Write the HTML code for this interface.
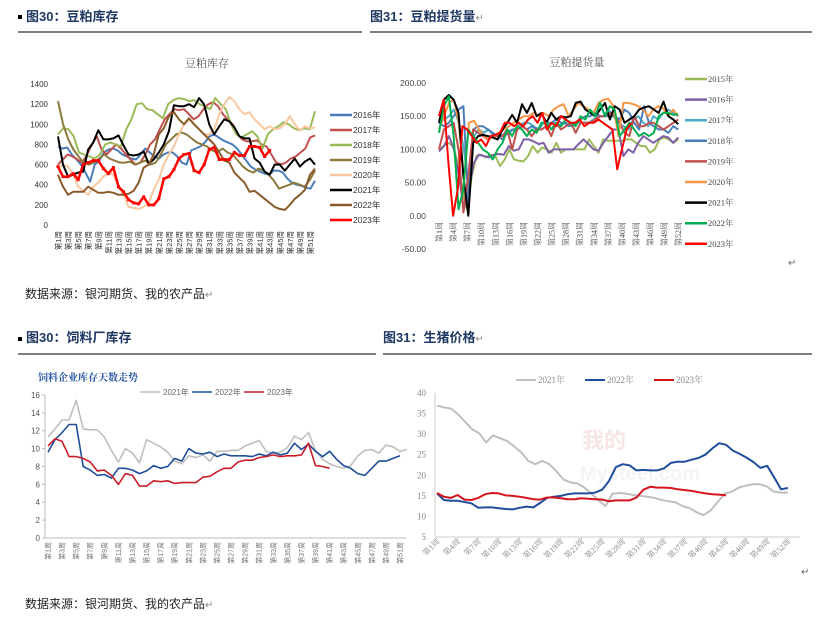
<!DOCTYPE html>
<html><head><meta charset="utf-8"><style>
body{margin:0;background:#fff;width:831px;height:617px;overflow:hidden;font-family:"Liberation Sans","Noto Sans CJK SC",sans-serif}
svg{position:absolute;left:0;top:0}
</style></head><body>
<svg id="s" width="831" height="617" xmlns="http://www.w3.org/2000/svg" font-family="Liberation Sans, Noto Sans CJK SC, sans-serif">
<rect x="18" y="15" width="4" height="4" fill="#000"/>
<text x="26" y="21" font-size="13" font-weight="bold" fill="#1f3864">图30：豆粕库存</text>
<text x="370" y="21" font-size="13" font-weight="bold" fill="#1f3864">图31：豆粕提货量<tspan fill="#888" font-weight="normal" font-size="10">↵</tspan></text>
<line x1="18" y1="32" x2="362" y2="32" stroke="#000" stroke-width="1"/>
<line x1="370" y1="32" x2="812" y2="32" stroke="#000" stroke-width="1"/>
<text x="25" y="298" font-size="12" fill="#222">数据来源：银河期货、我的农产品<tspan fill="#888" font-size="10">↵</tspan></text>
<rect x="18" y="337" width="4" height="4" fill="#000"/>
<text x="26" y="342" font-size="13" font-weight="bold" fill="#1f3864">图30：饲料厂库存</text>
<text x="383" y="342" font-size="13" font-weight="bold" fill="#1f3864">图31：生猪价格<tspan fill="#888" font-weight="normal" font-size="10">↵</tspan></text>
<line x1="18" y1="354" x2="376" y2="354" stroke="#000"/>
<line x1="383" y1="354" x2="812" y2="354" stroke="#000"/>
<text x="25" y="608" font-size="12" fill="#222">数据来源：银河期货、我的农产品<tspan fill="#888" font-size="10">↵</tspan></text>
<text x="788" y="266" font-size="10" fill="#666">↵</text>
<text x="801" y="575" font-size="10" fill="#666">↵</text>
<g id="g"></g>
</svg>
<script>
const g=document.getElementById('g');let h='';
function line(a,x0,step,y0,ys,col,w,base){let p=a.map((v,i)=>(x0+i*step).toFixed(1)+','+(y0-(v-base)*ys).toFixed(1)).join(' ');h+=`<polyline points="${p}" fill="none" stroke="${col}" stroke-width="${w}" stroke-linejoin="round"/>`;}
function txt(x,y,t,o){h+=`<text x="${x}" y="${y}" ${o||''}>${t}</text>`;}
h+=`<text x="207" y="67" font-size="11" fill="#555" text-anchor="middle" font-family="Liberation Serif, Noto Serif CJK SC, serif">豆粕库存</text>`;
for(let v=0;v<=1400;v+=200)txt(48,225-v*0.1007+3,v,'font-size="8" fill="#333" text-anchor="end"');
for(let i=1;i<=51;i+=2){let x=58+(i-1)*5.04;txt(0,0,'第'+i+'周',`font-size="7.5" fill="#333" text-anchor="end" transform="translate(${x+3},231) rotate(-90)"`);}
const c1={"#4a7ebb":[780,760,770,700,650,600,520,430,600,640,720,750,760,740,700,680,660,650,700,760,720,680,660,700,720,720,680,620,600,740,760,780,820,880,900,870,840,820,800,760,700,640,580,550,530,510,500,540,540,520,460,420,400,390,370,360,440],
"#c0504d":[600,650,700,680,650,620,700,800,880,750,700,750,800,760,700,650,600,620,700,800,850,950,1050,1100,1150,1140,1150,1100,1050,1080,1150,1200,1220,1180,1100,1050,1000,900,850,830,830,840,800,780,700,620,600,620,660,680,720,760,870,890],
"#9bbb59":[900,960,950,880,720,700,680,660,700,800,820,800,780,950,1050,1200,1210,1150,1140,1100,1060,1200,1240,1260,1250,1230,1240,1200,1180,1150,1260,1200,1150,1000,900,870,900,930,880,760,900,950,980,1020,1000,960,940,960,950,1130],
"#8c7a3e":[1230,1000,850,750,680,620,600,620,660,700,660,640,620,620,630,600,620,640,600,620,700,800,850,900,920,900,860,820,800,780,740,720,760,720,700,640,580,540,520,560,540,500,440,360,380,400,420,400,380,450,540],
"#fac8a0":[560,600,580,500,380,340,300,380,420,480,520,500,380,300,180,170,160,180,220,350,450,600,700,780,900,1000,1050,1000,950,900,900,950,1100,1200,1270,1230,1150,1100,1120,1050,1000,950,980,950,960,1000,1080,1000,940,980,960,970],
"#000":[880,600,480,500,520,530,750,820,940,850,850,860,890,790,700,690,700,730,610,650,720,800,930,1190,1180,1180,1200,1170,1260,1200,1000,900,980,1050,1030,970,880,860,860,660,620,530,500,600,600,540,600,660,580,630,660,600],
"#8b5a2b":[500,380,300,330,330,330,380,350,320,320,330,320,300,300,310,340,420,570,600,700,900,960,1080,1120,1050,1000,1060,1000,950,900,850,800,720,640,620,520,470,420,330,340,300,260,220,180,160,150,200,260,300,350,500,560]};
for(const k in c1){let a=c1[k];line(a,58,257/(a.length-1),225,0.1007,k,2,0);}
let r23=[580,480,480,510,450,600,620,640,640,560,510,570,380,330,250,220,210,280,200,200,260,460,480,550,660,700,710,540,520,600,750,770,650,650,650,720,690,690,780,780,770,680,740];
line(r23,58,5.04,225,0.1007,"#f00",2.5,0);
r23.forEach((v,i)=>h+=`<rect x="${58+i*5.04-1.5}" y="${225-v*0.1007-1.5}" width="3" height="3" fill="#f00"/>`);
const l1=[["#4a7ebb","2016年"],["#c0504d","2017年"],["#9bbb59","2018年"],["#8c7a3e","2019年"],["#fac8a0","2020年"],["#000","2021年"],["#8b5a2b","2022年"],["#f00","2023年"]];
l1.forEach((l,i)=>{let y=115+i*15;h+=`<line x1="330" y1="${y}" x2="352" y2="${y}" stroke="${l[0]}" stroke-width="2.5"/>`;txt(353,y+3,l[1],'font-size="8.5" fill="#333"');});
h+=`<text x="577" y="66" font-size="11" fill="#555" text-anchor="middle" font-family="Liberation Serif, Noto Serif CJK SC, serif">豆粕提货量</text>`;
for(let v=-50;v<=200;v+=50)txt(426,249-(v+50)*0.664+3,v.toFixed(2),'font-size="8.5" fill="#444" text-anchor="end"');
for(let i=1;i<=52;i+=3){let x=439+(i-1)*4.69;txt(0,0,'第'+i+'周',`font-size="8" fill="#444" text-anchor="end" font-family="Liberation Serif, Noto Serif CJK SC, serif" transform="translate(${x+3},222) rotate(-90)"`);}
const c2=[["#9bbb59","2015年",[100,105,110,105,80,40,10,60,90,92,88,92,90,75,85,100,85,83,82,90,105,95,103,100,95,110,95,100,100,100,100,100,115,105,95,115,113,113,113,113,115,115,110,105,105,95,100,115,118,115,110,115]],
["#7f5fa8","2016年",[97,105,120,100,60,10,40,80,92,90,88,92,93,92,105,98,100,115,115,112,108,110,95,100,100,100,100,100,108,115,108,100,98,110,120,130,130,90,100,95,110,120,115,110,115,120,118,110,118]],
["#4bacc6","2017年",[140,145,150,160,140,100,40,120,130,125,130,120,125,120,125,130,135,140,140,135,130,140,140,140,135,140,135,140,140,140,140,145,150,150,160,150,140,135,130,145,150,140,135,150,145,155,160,155,150]],
["#4a7ebb","2018年",[140,135,140,150,160,165,20,130,135,135,130,125,120,115,125,130,130,135,130,135,130,130,135,140,145,140,140,135,140,145,150,150,155,150,150,150,150,145,160,155,140,130,165,140,135,130,130,125,135,130]],
["#c0504d","2019年",[100,130,135,140,100,5,60,130,125,120,115,120,120,120,130,100,130,135,130,120,130,130,135,120,140,130,135,140,125,140,140,140,145,150,150,155,150,140,125,120,150,135,135,140,140,135,130,135,140,145]],
["#f79646","2020年",[130,150,170,175,140,50,140,143,130,120,115,120,125,130,135,140,145,150,150,155,150,155,150,160,165,168,150,160,170,165,160,155,170,175,176,165,120,170,170,168,165,160,150,160,165,162,150,160,150]],
["#000","2021年",[140,175,182,175,155,60,0,110,120,122,120,118,115,130,140,152,140,168,155,170,150,155,140,155,145,150,148,150,170,172,160,155,150,160,170,145,165,160,140,145,150,160,163,165,160,155,172,150,145,138]],
["#00b050","2022年",[125,165,180,120,10,40,130,120,110,100,95,85,100,110,130,120,135,130,120,130,125,140,140,130,140,135,145,140,135,150,145,160,150,170,150,165,160,120,130,140,130,120,125,120,125,150,155,155,152,153]],
["#f00","2023年",[150,175,80,0,40,135,130,120,110,115,105,120,122,125,140,140,135,140,135,145,150,140,155,130,140,135,150,145,140,140,145,135,140,140,145,140,135,130,70,100,130,140]]];
c2.forEach((c,i)=>{let a=c[2];let n=c[1]=="2023年"?42:52;line(a,439,4.69*(n-1)/(a.length-1),249,0.664,c[0],2,-50);let y=79+i*20.6;h+=`<line x1="685" y1="${y}" x2="707" y2="${y}" stroke="${c[0]}" stroke-width="2.5"/>`;txt(708,y+3,c[1],'font-size="8.5" fill="#444" font-family="Liberation Serif, Noto Serif CJK SC, serif"');});
txt(38,381,'饲料企业库存天数走势','font-size="10" font-weight="bold" fill="#1f4e9c" font-family="Noto Serif CJK SC, serif"');
h+=`<line x1="45" y1="395" x2="45" y2="538" stroke="#bbb"/><line x1="45" y1="538" x2="406" y2="538" stroke="#bbb"/>`;
for(let v=0;v<=16;v+=2){let y=538-v*8.94;txt(40,y+3,v,'font-size="8" fill="#555" text-anchor="end"');h+=`<line x1="42" y1="${y}" x2="45" y2="${y}" stroke="#bbb"/>`;}
for(let i=1;i<=51;i+=2){let x=48+(i-1)*7.04;txt(0,0,'第'+i+'周',`font-size="7" fill="#777" text-anchor="end" transform="translate(${x+2.5},542) rotate(-90)"`);}
const c3=[["#bfbfbf","2021年",[11.3,12.2,13.2,13.2,15.4,12.2,12.1,12.1,11.3,9.8,8.5,10,9.5,8.4,11,10.6,10.2,9.6,8.6,8.3,9.2,9,9.3,8.6,9.7,9.7,9.8,9.8,10.3,10.6,10.9,9.7,9.5,9.6,10.1,11.4,11,11.8,9.8,8.8,8.3,8,7.8,8.1,9.2,9.8,9.9,9.5,10.4,10.2,9.7,9.9]],
["#1f4e9c","2022年",[9.6,11,11.8,12.7,12.7,8,7.6,7,7.1,6.7,7.8,7.8,7.6,7.2,7.5,8.1,7.8,8,8.9,8.6,10,9.5,9.4,9.6,9.1,9.4,9.2,9.2,9.2,9.1,9.4,9.2,9.6,9.3,9.5,10.6,9.9,10.5,9.7,9.1,9.7,8.8,8.1,7.8,7.2,7,7.8,8.6,8.6,8.9,9.2]],
["#c81e28","2023年",[10.3,11.1,10.8,9.1,9.1,8.9,8.5,7.5,7.6,7,6,7.2,7,5.8,5.8,6.4,6.3,6.4,6.1,6.2,6.2,6.2,6.8,6.9,7.4,7.8,7.8,8.5,8.7,8.7,9,9.1,9.3,9.1,9.2,9.2,9.3,10.6,8.1,8,7.8]]];
c3.forEach((c,i)=>{line(c[2],48,7.04,538,8.94,c[0],1.6,0);let x=140+i*52;h+=`<line x1="${x}" y1="392" x2="${x+20}" y2="392" stroke="${c[0]}" stroke-width="1.6"/>`;txt(x+23,395,c[1],'font-size="8" fill="#666"');});
h+=`<line x1="435" y1="393" x2="435" y2="537" stroke="#ccc"/><line x1="435" y1="537" x2="800" y2="537" stroke="#ccc"/>`;
for(let v=5;v<=40;v+=5){let y=537-(v-5)*4.114;txt(426,y+3,v,'font-size="9" fill="#888" text-anchor="end" font-family="Liberation Serif, serif"');}
for(let i=1;i<=52;i+=3){let x=437+(i-1)*6.88;h+=`<line x1="${x}" y1="537" x2="${x}" y2="540" stroke="#ccc"/>`;txt(0,0,'第'+i+'周',`font-size="8" fill="#888" text-anchor="end" font-family="Liberation Serif, Noto Serif CJK SC, serif" transform="translate(${x+3},542) rotate(-45)"`);}
h+=`<text x="582" y="448" font-size="22" fill="#f8e6e6" font-weight="bold">我的</text><text x="580" y="480" font-size="20" fill="#f4f4f4" font-weight="bold">Mysteel.com</text>`;
const c4=[["#bfbfbf","2021年",[37,36.5,36.2,34.8,33,31.2,30.2,28,29.7,29,28.3,27,25.6,23.5,22.7,23.5,22.7,21,19,18.3,18,17,15.5,14,12.5,15.5,15.7,15.5,15.2,15,14.8,14.5,14,13.7,13.4,12.5,12,11,10.3,11.5,13.5,15.5,16,17,17.5,17.8,17.8,17.3,16,15.8,15.8],52],
["#1f4e9c","2022年",[15.6,14,13.8,13.8,13.5,13.2,12.1,12.2,12.2,12,11.8,11.7,12.1,12.4,12.2,13.3,14.5,14.8,15,15.4,15.6,15.6,15.6,15.8,16.5,18.6,22,22.7,22.4,21.2,21.3,21.2,21.2,21.7,23,23.3,23.3,23.8,24.2,25,26.5,27.8,27.4,26,25.2,24.3,23.2,21.8,22.3,19.5,16.6,16.9],52],
["#d7141e","2023年",[15.7,14.8,14.5,15.2,14.1,14,14.5,15.4,15.7,15.6,15.1,15,14.8,14.5,14.2,14.1,14.6,14.6,14.4,14.2,14.2,14.4,14.3,14.2,14.1,13.7,13.9,13.9,13.9,14.6,16.5,17.2,17,17,16.9,16.6,16.4,16.2,15.9,15.6,15.4,15.3,15.1],43]];
c4.forEach((c,i)=>{let a=c[2];line(a,437,6.88*(c[3]-1)/(a.length-1),537,4.114,c[0],2,5);let x=516+i*69;h+=`<line x1="${x}" y1="380" x2="${x+20}" y2="380" stroke="${c[0]}" stroke-width="2"/>`;txt(x+22,383,c[1],'font-size="9" fill="#888" font-family="Liberation Serif, Noto Serif CJK SC, serif"');});
g.innerHTML=h;
</script>
</body></html>
